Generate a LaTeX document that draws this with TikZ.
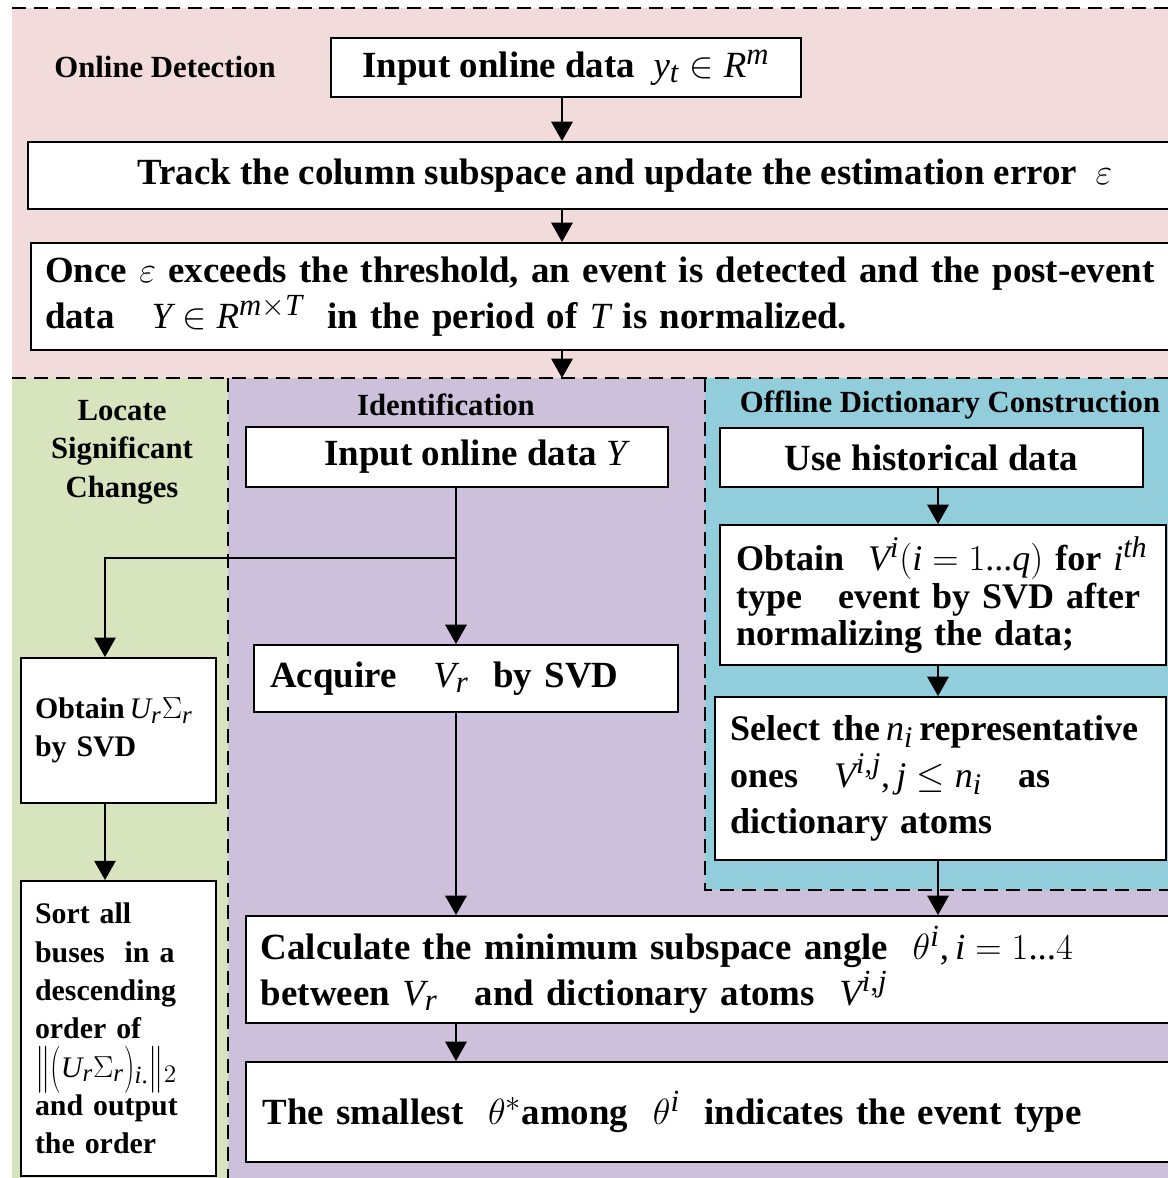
\documentclass[tikz,border=0pt]{standalone}
\usepackage{fontspec}
\setmainfont{Liberation Serif}
\usepackage[italic]{mathastext}
\usepackage{graphicx}
\usepackage{tikz}
\usetikzlibrary{arrows.meta}

\definecolor{detectpink}{HTML}{F2DCDB}
\definecolor{locategreen}{HTML}{D7E4BD}
\definecolor{identpurple}{HTML}{CCC0DA}
\definecolor{offlineblue}{HTML}{92CDDC}
\newcommand{\tallsym}[1]{\raisebox{-0.35ex}{\scalebox{1}[1.55]{$#1$}}}

\begin{document}
\begin{tikzpicture}[x=0.02cm, y=-0.02cm, >={Triangle[width=12pt,length=11pt]}, arrow/.style={->, line width=1.6pt}, box/.style={draw, line width=1.1pt, fill=white, font=\bfseries\fontsize{21}{26}\selectfont, inner sep=0pt}, small box/.style={box, font=\bfseries\fontsize{17}{21.8}\selectfont}, title/.style={font=\bfseries\fontsize{17.5}{22}\selectfont, align=center}, border/.style={line width=1.3pt, dash pattern=on 8pt off 4.5pt}]

\useasboundingbox (0,0) rectangle (1168,1178);
\clip (0,0) rectangle (1168,1178);

% background areas
\fill[detectpink] (12,8) rectangle (1168,378);
\fill[locategreen] (12,378) rectangle (228,1178);
\fill[identpurple] (228,378) rectangle (1168,1178);
\fill[offlineblue] (705,378) rectangle (1168,890);
\draw[border] (12,8) -- (1168,8);
\draw[border] (12,378) -- (1168,378);
\draw[border] (228,378) -- (228,1178);
\draw[border] (705,378) -- (705,890) -- (1168,890);

% titles
\node[title] (tdetect) at (165,67) {Online Detection};
\node[title] (tlocate) at (122,452) {Locate\\Significant\\Changes};
\node[title] (tident) at (446,405) {Identification};
\node[title] (toffline) at (950,405) {Offline Dictionary Construction};

% online detection
\node[box, minimum width=9.4cm, minimum height=1.18cm] (in1) at (566,67.5) {Input online data~~$y_t\in R^m$};
\node[box, minimum width=23.88cm, minimum height=1.34cm] (track) at (625,175.5) {Track the column subspace and update the estimation error~~$\varepsilon$};
\node[box, anchor=west, inner xsep=8pt, text width=650pt, align=left, minimum height=2.14cm] (once) at (30,296.5) {Once $\varepsilon$ exceeds the threshold, an event is detected and the post-event\\data~~~$Y\in R^{m\times T}$~~in the period of $T$ is normalized.};

% identification
\node[box, minimum width=8.44cm, minimum height=1.2cm] (inY) at (457,457) {\hspace{1em}Input online data $Y$};
\node[box, inner xsep=9.1pt, text width=223pt, align=left, minimum height=1.34cm] (acquire) at (466,678.5) {Acquire~~~$V_r$~~by SVD};
\node[box, anchor=west, inner xsep=8.5pt, text width=650pt, align=left, minimum height=2.14cm] (calc) at (245,969.5) {Calculate the minimum subspace angle~~$\theta^i, i=1...4$\\between $V_r$~~~and dictionary atoms~~$V^{i,j}$};
\node[box, anchor=west, inner xsep=9.5pt, text width=650pt, align=left, minimum height=2cm] (small) at (245,1112) {The smallest~~$\theta^*$among~~$\theta^i$~~indicates the event type};

% offline dictionary
\node[box, minimum width=8.46cm, minimum height=1.18cm] (hist) at (931.5,457.5) {Use historical data};
\node[box, inner xsep=9.1pt, text width=235.6pt, align=left, minimum height=2.8cm, font=\bfseries\fontsize{20.5}{21.5}\selectfont] (obtV) at (943,595) {Obtain~~$V^i(i=1...q)$ for~$i^{th}$\\type~~~event by SVD after\\normalizing the data;};
\node[box, inner xsep=8.5pt, text width=239.5pt, align=left, minimum height=3.26cm, font=\bfseries\fontsize{20.5}{26.5}\selectfont] (sel) at (940.5,778.5) {\mbox{Select the\,$n_i$\,representative}\\ones~~~$V^{i,j}, j\le n_i$~~~as\\dictionary atoms};

% locate significant changes
\node[small box, inner xsep=8pt, text width=95pt, align=left, minimum height=2.9cm] (obtU) at (118.5,730.5) {Obtain\,$U_r\Sigma_r$\\by SVD};
\node[small box, inner xsep=8pt, text width=95pt, align=left, minimum height=5.9cm] (sort) at (118.5,1028.5) {Sort all\\buses~ in a\\descending\\order of\\ \tallsym{\|(}$U_r\Sigma_r$\tallsym{)}$_{i.}$\tallsym{\|}$_2$\\and output\\the order};

% arrow columns
\coordinate (c1) at (562,0);
\coordinate (c2) at (456,0);
\coordinate (c3) at (938,0);
\coordinate (c4) at (105,0);
\coordinate (split) at (c1 |- 0,378);
\coordinate (fork) at (456,558);

\foreach \col/\from/\to in {c1/in1/track, c1/track/once, c2/inY/acquire, c2/acquire/calc, c2/calc/small, c3/hist/obtV, c3/obtV/sel, c3/sel/calc, c4/obtU/sort}
    \draw[arrow] (\col |- \from.south) -- (\col |- \to.north);
\draw[arrow] (c1 |- once.south) -- (split);
\draw[arrow, line width=1.2pt] (fork) -- (c4 |- fork) -- (c4 |- obtU.north);
\end{tikzpicture}
\end{document}
